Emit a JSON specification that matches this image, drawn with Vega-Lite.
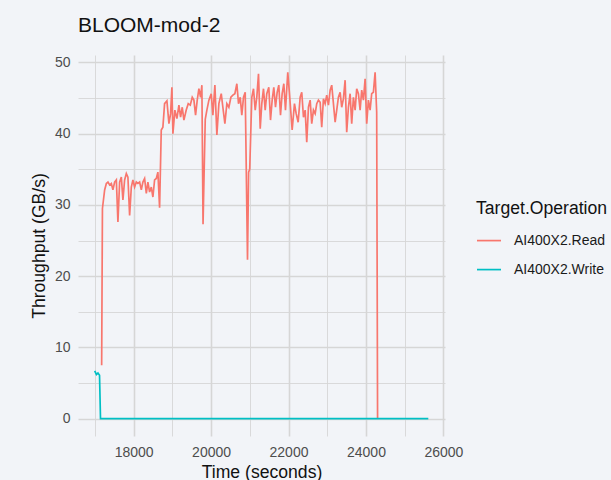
{
  "$schema": "https://vega.github.io/schema/vega-lite/v6.json",
  "width": 367,
  "height": 381,
  "autosize": {"type": "none"},
  "padding": {"left": 78, "top": 55, "right": 166, "bottom": 44},
  "background": "#f2f4f8",
  "title": {"text": "BLOOM-mod-2", "anchor": "start", "frame": "group", "fontSize": 21, "font": "Liberation Sans", "fontWeight": "normal", "color": "#111111", "baseline": "alphabetic", "offset": 2},
  "datasets": {
    "read": [
      {"t": 17175, "v": 7.5}, {"t": 17195, "v": 29.5}, {"t": 17252, "v": 32.1}, {"t": 17296, "v": 33.0}, {"t": 17338, "v": 33.2},
      {"t": 17381, "v": 32.8}, {"t": 17425, "v": 33.0}, {"t": 17466, "v": 32.1}, {"t": 17510, "v": 33.2}, {"t": 17554, "v": 33.5},
      {"t": 17595, "v": 27.6}, {"t": 17639, "v": 33.2}, {"t": 17683, "v": 33.9}, {"t": 17724, "v": 30.7}, {"t": 17768, "v": 33.5},
      {"t": 17812, "v": 34.4}, {"t": 17853, "v": 33.9}, {"t": 17897, "v": 28.5}, {"t": 17941, "v": 32.5}, {"t": 17982, "v": 33.5},
      {"t": 18026, "v": 32.5}, {"t": 18070, "v": 33.2}, {"t": 18111, "v": 33.0}, {"t": 18155, "v": 33.2}, {"t": 18199, "v": 32.1},
      {"t": 18240, "v": 33.2}, {"t": 18284, "v": 33.7}, {"t": 18328, "v": 31.6}, {"t": 18369, "v": 33.2}, {"t": 18413, "v": 31.8},
      {"t": 18457, "v": 32.5}, {"t": 18498, "v": 31.1}, {"t": 18542, "v": 33.5}, {"t": 18586, "v": 33.7}, {"t": 18627, "v": 34.6},
      {"t": 18671, "v": 29.6}, {"t": 18714, "v": 40.5}, {"t": 18756, "v": 40.9}, {"t": 18800, "v": 44.2}, {"t": 18860, "v": 44.6},
      {"t": 18912, "v": 41.4}, {"t": 18955, "v": 42.8}, {"t": 18989, "v": 46.5}, {"t": 19015, "v": 40.0}, {"t": 19066, "v": 43.3},
      {"t": 19118, "v": 42.1}, {"t": 19170, "v": 44.0}, {"t": 19213, "v": 42.3}, {"t": 19256, "v": 43.7}, {"t": 19299, "v": 41.9},
      {"t": 19359, "v": 43.3}, {"t": 19411, "v": 44.2}, {"t": 19463, "v": 44.0}, {"t": 19514, "v": 45.1}, {"t": 19557, "v": 44.7},
      {"t": 19600, "v": 42.6}, {"t": 19643, "v": 44.7}, {"t": 19686, "v": 46.3}, {"t": 19729, "v": 45.1}, {"t": 19763, "v": 46.8},
      {"t": 19793, "v": 27.3}, {"t": 19850, "v": 42.0}, {"t": 19892, "v": 43.3}, {"t": 19944, "v": 44.7}, {"t": 20004, "v": 45.6},
      {"t": 20047, "v": 42.6}, {"t": 20099, "v": 46.8}, {"t": 20150, "v": 39.8}, {"t": 20202, "v": 44.2}, {"t": 20263, "v": 45.6},
      {"t": 20305, "v": 43.7}, {"t": 20357, "v": 41.4}, {"t": 20408, "v": 44.2}, {"t": 20460, "v": 43.7}, {"t": 20512, "v": 45.1},
      {"t": 20563, "v": 45.4}, {"t": 20615, "v": 45.6}, {"t": 20666, "v": 47.0}, {"t": 20709, "v": 44.2}, {"t": 20753, "v": 45.1},
      {"t": 20794, "v": 42.6}, {"t": 20838, "v": 45.1}, {"t": 20882, "v": 45.8}, {"t": 20941, "v": 22.3}, {"t": 20970, "v": 34.6},
      {"t": 20998, "v": 35.0}, {"t": 21052, "v": 45.1}, {"t": 21096, "v": 46.3}, {"t": 21140, "v": 43.3}, {"t": 21181, "v": 45.1},
      {"t": 21225, "v": 48.4}, {"t": 21269, "v": 40.7}, {"t": 21310, "v": 44.2}, {"t": 21354, "v": 46.3}, {"t": 21398, "v": 43.3},
      {"t": 21439, "v": 45.6}, {"t": 21491, "v": 46.5}, {"t": 21535, "v": 41.9}, {"t": 21578, "v": 44.7}, {"t": 21620, "v": 46.5},
      {"t": 21664, "v": 43.7}, {"t": 21707, "v": 45.8}, {"t": 21749, "v": 46.8}, {"t": 21793, "v": 42.6}, {"t": 21836, "v": 45.6},
      {"t": 21879, "v": 47.0}, {"t": 21922, "v": 43.3}, {"t": 21981, "v": 48.6}, {"t": 22025, "v": 45.6}, {"t": 22094, "v": 40.5},
      {"t": 22154, "v": 44.2}, {"t": 22198, "v": 42.8}, {"t": 22249, "v": 41.6}, {"t": 22301, "v": 45.1}, {"t": 22342, "v": 45.8},
      {"t": 22386, "v": 42.3}, {"t": 22430, "v": 43.3}, {"t": 22471, "v": 38.8}, {"t": 22515, "v": 43.7}, {"t": 22559, "v": 44.7},
      {"t": 22600, "v": 41.4}, {"t": 22644, "v": 43.3}, {"t": 22688, "v": 42.8}, {"t": 22729, "v": 44.2}, {"t": 22773, "v": 44.7},
      {"t": 22817, "v": 44.4}, {"t": 22858, "v": 40.9}, {"t": 22902, "v": 44.9}, {"t": 22946, "v": 44.2}, {"t": 22987, "v": 45.4},
      {"t": 23031, "v": 44.0}, {"t": 23075, "v": 46.1}, {"t": 23116, "v": 46.8}, {"t": 23160, "v": 44.2}, {"t": 23204, "v": 41.6},
      {"t": 23245, "v": 43.3}, {"t": 23289, "v": 45.1}, {"t": 23333, "v": 45.8}, {"t": 23374, "v": 43.7}, {"t": 23418, "v": 44.9},
      {"t": 23462, "v": 47.5}, {"t": 23503, "v": 40.2}, {"t": 23547, "v": 43.7}, {"t": 23591, "v": 45.6}, {"t": 23632, "v": 41.4},
      {"t": 23676, "v": 45.1}, {"t": 23720, "v": 43.3}, {"t": 23761, "v": 46.3}, {"t": 23805, "v": 45.6}, {"t": 23849, "v": 43.3},
      {"t": 23890, "v": 46.1}, {"t": 23934, "v": 44.7}, {"t": 23978, "v": 47.7}, {"t": 24019, "v": 41.4}, {"t": 24063, "v": 44.7},
      {"t": 24107, "v": 43.3}, {"t": 24148, "v": 45.6}, {"t": 24192, "v": 45.8}, {"t": 24236, "v": 48.6}, {"t": 24277, "v": 43.0},
      {"t": 24300, "v": 0}
    ],
    "write": [
      {"t": 16995, "v": 6.7}, {"t": 17040, "v": 6.2}, {"t": 17080, "v": 6.4}, {"t": 17120, "v": 6.1}, {"t": 17145, "v": 0},
      {"t": 18000, "v": 0}, {"t": 19000, "v": 0}, {"t": 20000, "v": 0}, {"t": 21000, "v": 0}, {"t": 22000, "v": 0},
      {"t": 23000, "v": 0}, {"t": 24000, "v": 0}, {"t": 25000, "v": 0}, {"t": 25610, "v": 0}
    ]
  },
  "layer": [
    {
      "data": {"name": "read"},
      "transform": [{"calculate": "'AI400X2.Read'", "as": "op"}],
      "mark": {"type": "line", "strokeWidth": 1.7, "clip": true},
      "encoding": {
        "x": {"field": "t", "type": "quantitative"},
        "y": {"field": "v", "type": "quantitative"},
        "color": {"field": "op", "type": "nominal"}
      }
    },
    {
      "data": {"name": "write"},
      "transform": [{"calculate": "'AI400X2.Write'", "as": "op"}],
      "mark": {"type": "line", "strokeWidth": 1.7, "clip": true},
      "encoding": {
        "x": {"field": "t", "type": "quantitative"},
        "y": {"field": "v", "type": "quantitative"},
        "color": {"field": "op", "type": "nominal"}
      }
    }
  ],
  "encoding": {
    "x": {
      "field": "t", "type": "quantitative", "title": "Time (seconds)",
      "scale": {"domain": [16564, 26041], "nice": false, "zero": false},
      "axis": {
        "values": [17000, 18000, 19000, 20000, 21000, 22000, 23000, 24000, 25000, 26000],
        "format": "d",
        "labelExpr": "datum.value % 2000 === 0 ? datum.label : ''",
        "labelPadding": 9,
        "titlePadding": 4
      }
    },
    "y": {
      "field": "v", "type": "quantitative", "title": "Throughput (GB/s)",
      "scale": {"domain": [-2.43, 51.03], "nice": false, "zero": false},
      "axis": {
        "values": [0, 5, 10, 15, 20, 25, 30, 35, 40, 45, 50],
        "format": "d",
        "labelExpr": "datum.value % 10 === 0 ? datum.label : ''",
        "labelPadding": 8,
        "titlePadding": 6
      }
    },
    "color": {
      "field": "op", "type": "nominal", "title": "Target.Operation",
      "scale": {"domain": ["AI400X2.Read", "AI400X2.Write"], "range": ["#F8766D", "#00BFC4"]},
      "legend": {
        "orient": "none", "legendX": 398, "legendY": 145,
        "symbolType": "stroke", "symbolSize": 576, "symbolStrokeWidth": 1.7,
        "labelOffset": 12, "rowPadding": 9, "titlePadding": 10, "padding": 0
      }
    }
  },
  "config": {
    "view": {"stroke": null},
    "font": "Liberation Sans",
    "axis": {
      "ticks": false, "domain": false, "grid": true,
      "gridColor": "#d6d6d6",
      "labelFont": "Liberation Sans", "labelFontSize": 14, "labelColor": "#4d4d4d", "labelOverlap": false,
      "titleFont": "Liberation Sans", "titleFontSize": 17.6, "titleColor": "#111111", "titleFontWeight": "normal"
    },
    "axisX": {"gridWidth": {"condition": {"test": "datum.value % 2000 === 0", "value": 1.6}, "value": 0.9}},
    "axisY": {"gridWidth": {"condition": {"test": "datum.value % 10 === 0", "value": 1.6}, "value": 0.9}},
    "legend": {
      "titleFont": "Liberation Sans", "titleFontSize": 17.6, "titleColor": "#111111", "titleFontWeight": "normal",
      "labelFont": "Liberation Sans", "labelFontSize": 14, "labelColor": "#1a1a1a"
    }
  }
}
